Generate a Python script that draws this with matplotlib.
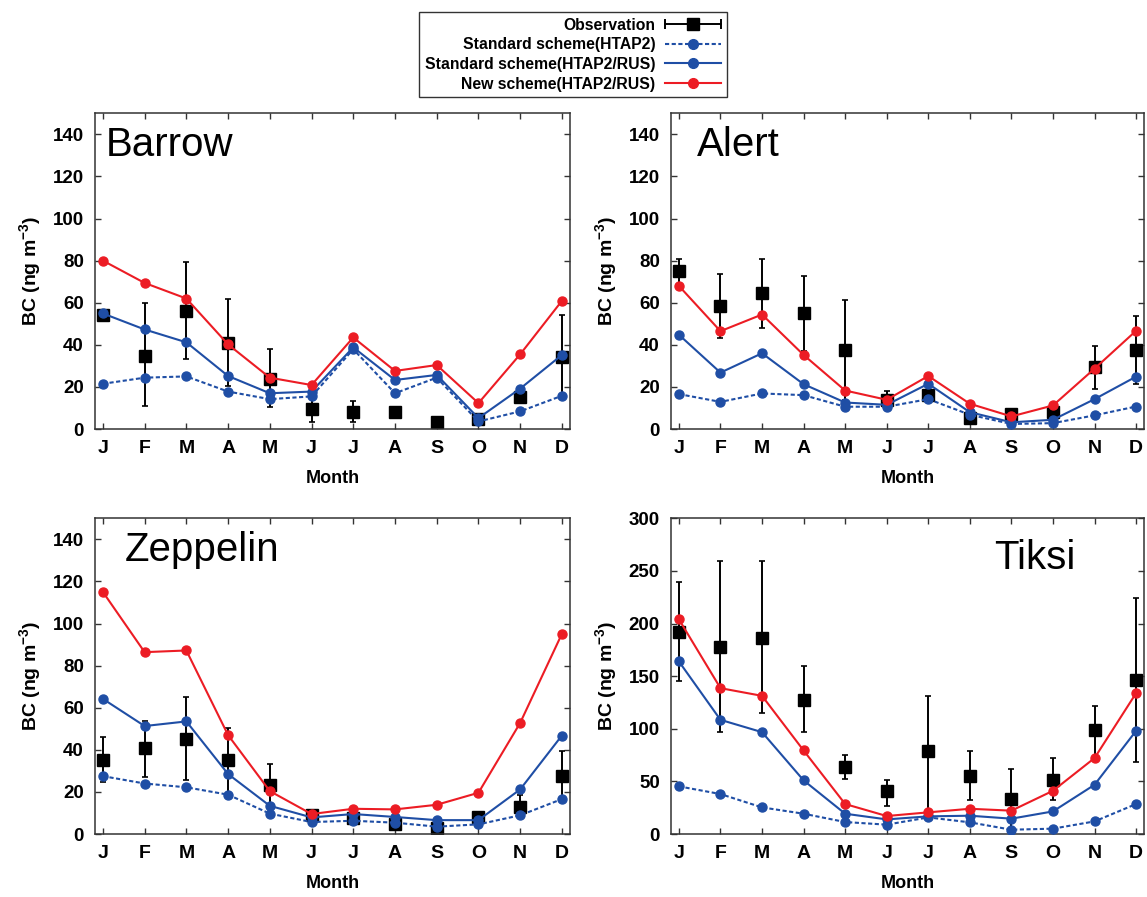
import numpy as np
import matplotlib
matplotlib.use("Agg")
import matplotlib.pyplot as plt
from matplotlib.lines import Line2D
from matplotlib.legend_handler import HandlerBase

plt.rcParams['font.family'] = ['Liberation Sans', 'DejaVu Sans']
plt.rcParams['font.weight'] = 'bold'
plt.rcParams['mathtext.fontset'] = 'custom'
plt.rcParams['mathtext.rm'] = 'Liberation Sans:bold'
plt.rcParams['mathtext.default'] = 'rm'

months = ['J', 'F', 'M', 'A', 'M', 'J', 'J', 'A', 'S', 'O', 'N', 'D']

# Barrow
barrow_obs = [54.4, 34.7, 56.0, 41.0, 24.0, 9.5, 8.0, 7.9, 3.2, 5.0, 15.0, 34.4]
barrow_lo = [54.4, 11.0, 33.4, 20.5, 10.4, 3.5, 3.3, 6.0, 3.2, 4.0, 12.5, 14.5]
barrow_hi = [54.4, 60.0, 79.3, 61.7, 38.0, 16.0, 13.4, 10.0, 3.2, 6.0, 17.5, 54.3]
barrow_htap2 = [21.5, 24.4, 25.0, 17.8, 14.2, 15.5, 37.9, 17.0, 24.4, 3.6, 8.4, 15.8]
barrow_rus = [54.9, 47.3, 41.2, 25.2, 17.0, 17.8, 38.8, 23.3, 25.7, 5.2, 19.2, 35.2]
barrow_new = [80.0, 69.4, 62.0, 40.2, 24.4, 20.9, 43.5, 27.6, 30.4, 12.3, 35.5, 60.9]

# Alert
alert_obs = [74.9, 58.5, 64.5, 54.9, 37.7, 13.9, 16.2, 5.2, 7.3, 8.0, 29.7, 37.7]
alert_lo = [69.0, 43.4, 48.1, 37.0, 14.0, 10.0, 14.0, 4.0, 6.0, 6.0, 19.2, 21.5]
alert_hi = [80.6, 73.8, 80.6, 72.6, 61.2, 18.3, 18.0, 6.5, 8.5, 10.0, 39.3, 53.8]
alert_htap2 = [16.6, 12.9, 16.9, 16.1, 10.6, 10.6, 14.2, 6.8, 2.4, 2.8, 6.5, 10.7]
alert_rus = [44.8, 26.8, 36.0, 21.3, 12.6, 11.5, 21.5, 8.0, 3.2, 4.4, 14.2, 24.9]
alert_new = [68.0, 46.5, 54.4, 35.2, 18.3, 13.9, 25.2, 12.0, 6.0, 11.2, 28.7, 46.7]

# Zeppelin
zeppelin_obs = [35.0, 40.8, 45.0, 35.0, 23.3, 9.0, 7.4, 5.0, 2.7, 7.9, 13.0, 27.5]
zeppelin_lo = [24.8, 27.2, 25.6, 19.5, 13.0, 7.0, 6.0, 4.0, 2.0, 6.0, 8.0, 16.4]
zeppelin_hi = [45.9, 53.8, 64.9, 50.6, 33.5, 11.0, 9.0, 6.0, 3.5, 10.0, 18.5, 39.6]
zeppelin_htap2 = [27.5, 24.0, 22.2, 18.7, 9.7, 5.7, 6.3, 5.4, 3.5, 4.6, 8.9, 16.6]
zeppelin_rus = [64.2, 51.3, 53.5, 28.5, 13.4, 7.9, 9.5, 8.1, 6.6, 6.6, 21.2, 46.8]
zeppelin_new = [115.0, 86.4, 87.2, 47.0, 20.4, 9.5, 12.0, 11.7, 13.9, 19.6, 52.8, 95.1]

# Tiksi
tiksi_obs = [191.5, 178.0, 186.7, 127.8, 63.3, 40.5, 78.5, 54.7, 33.5, 51.6, 99.0, 146.2]
tiksi_lo = [145.0, 96.5, 114.9, 96.5, 52.2, 26.9, 22.0, 32.0, 5.0, 32.0, 72.2, 68.0]
tiksi_hi = [239.0, 259.0, 259.0, 159.8, 74.7, 51.6, 131.3, 78.5, 62.0, 72.2, 121.2, 224.0]
tiksi_htap2 = [45.3, 38.0, 25.3, 19.3, 11.4, 8.9, 15.8, 11.1, 4.1, 5.1, 12.0, 28.5]
tiksi_rus = [164.0, 108.5, 96.8, 51.0, 19.3, 13.9, 16.8, 17.4, 14.6, 21.5, 46.8, 98.1]
tiksi_new = [204.0, 138.6, 131.3, 79.4, 28.5, 17.1, 20.6, 24.0, 22.2, 41.1, 72.2, 133.9]

RED = '#ec1c24'
BLUE = '#1f4ea5'


class ObsHandler(HandlerBase):
    # horizontal errorbar with end caps and a square, gnuplot style
    def create_artists(self, legend, orig_handle, xdescent, ydescent,
                       width, height, fontsize, trans):
        y = height / 2 - ydescent
        bar = Line2D([-xdescent, width - xdescent], [y, y], color='black',
                     lw=1.4, marker='|', markersize=7, markeredgewidth=1.4)
        sq = Line2D([width / 2 - xdescent], [y], color='black', marker='s',
                    markersize=8, linestyle='none')
        bar.set_transform(trans)
        sq.set_transform(trans)
        return [bar, sq]


def draw_panel(ax, name, obs, lo, hi, htap2, rus, new, ymax, ystep, name_pos, ha):
    x = np.arange(1, 13)
    obs = np.array(obs)
    yerr = [obs - np.array(lo), np.array(hi) - obs]
    ax.errorbar(x, obs, yerr=yerr, fmt='s', color='black', markersize=8,
                elinewidth=1.4, capsize=2.5, capthick=1.2, zorder=2)
    ax.plot(x, htap2, color=BLUE, lw=1.5, dashes=(2, 1.2), marker='o',
            markersize=6.5, zorder=3)
    ax.plot(x, rus, color=BLUE, lw=1.5, marker='o', markersize=6.5, zorder=4)
    ax.plot(x, new, color=RED, lw=1.5, marker='o', markersize=6.5, zorder=5)

    ax.set_xlim(0.81, 12.19)
    ax.set_ylim(0, ymax)
    ax.set_xticks(x)
    ax.set_xticklabels(months, fontsize=14, fontweight='bold')
    ax.set_yticks(np.arange(0, ymax + 1, ystep))
    ax.tick_params(axis='both', direction='in', length=4, width=1,
                   top=True, right=True, colors='#333333', labelcolor='black')
    ax.tick_params(axis='x', pad=8)
    ax.tick_params(axis='y', labelsize=13.5, pad=8)
    for s in ax.spines.values():
        s.set_color('#333333')
        s.set_linewidth(1.1)
    ax.set_xlabel('Month', fontsize=13, fontweight='bold', labelpad=9)
    ax.set_ylabel('BC (ng m$^{-3}$)', fontsize=14, fontweight='bold', labelpad=7)
    ax.text(name_pos[0], name_pos[1], name, transform=ax.transAxes,
            fontsize=29, fontweight='normal', ha=ha, va='top')


fig = plt.figure(figsize=(11.47, 8.97), dpi=100)

ax1 = fig.add_axes([0.0828, 0.5217, 0.414, 0.352])
ax2 = fig.add_axes([0.585, 0.5217, 0.4124, 0.352])
ax3 = fig.add_axes([0.0828, 0.0702, 0.414, 0.352])
ax4 = fig.add_axes([0.585, 0.0702, 0.4124, 0.352])

draw_panel(ax1, 'Barrow', barrow_obs, barrow_lo, barrow_hi, barrow_htap2,
           barrow_rus, barrow_new, 150, 20, (0.023, 0.96), 'left')
draw_panel(ax2, 'Alert', alert_obs, alert_lo, alert_hi, alert_htap2,
           alert_rus, alert_new, 150, 20, (0.055, 0.96), 'left')
draw_panel(ax3, 'Zeppelin', zeppelin_obs, zeppelin_lo, zeppelin_hi, zeppelin_htap2,
           zeppelin_rus, zeppelin_new, 150, 20, (0.063, 0.96), 'left')
draw_panel(ax4, 'Tiksi', tiksi_obs, tiksi_lo, tiksi_hi, tiksi_htap2,
           tiksi_rus, tiksi_new, 300, 50, (0.855, 0.935), 'right')

# legend
obs_handle = Line2D([], [], color='black')
h_htap2 = Line2D([], [], color=BLUE, lw=1.5, dashes=(2, 1.2), marker='o', markersize=7)
h_rus = Line2D([], [], color=BLUE, lw=1.5, marker='o', markersize=7)
h_new = Line2D([], [], color=RED, lw=1.5, marker='o', markersize=7)
leg = fig.legend([obs_handle, h_htap2, h_rus, h_new],
                 ['Observation', 'Standard scheme(HTAP2)',
                  'Standard scheme(HTAP2/RUS)', 'New scheme(HTAP2/RUS)'],
                 handler_map={obs_handle: ObsHandler()},
                 loc='upper center', bbox_to_anchor=(0.4996, 0.9866),
                 markerfirst=False, fancybox=False, frameon=True,
                 prop={'size': 11.3, 'weight': 'bold'},
                 handlelength=3.6, handletextpad=0.6, labelspacing=0.3,
                 borderpad=0.35, borderaxespad=0)
leg.get_frame().set_edgecolor('black')
leg.get_frame().set_linewidth(1.0)

fig.savefig('out.png', dpi=100)
